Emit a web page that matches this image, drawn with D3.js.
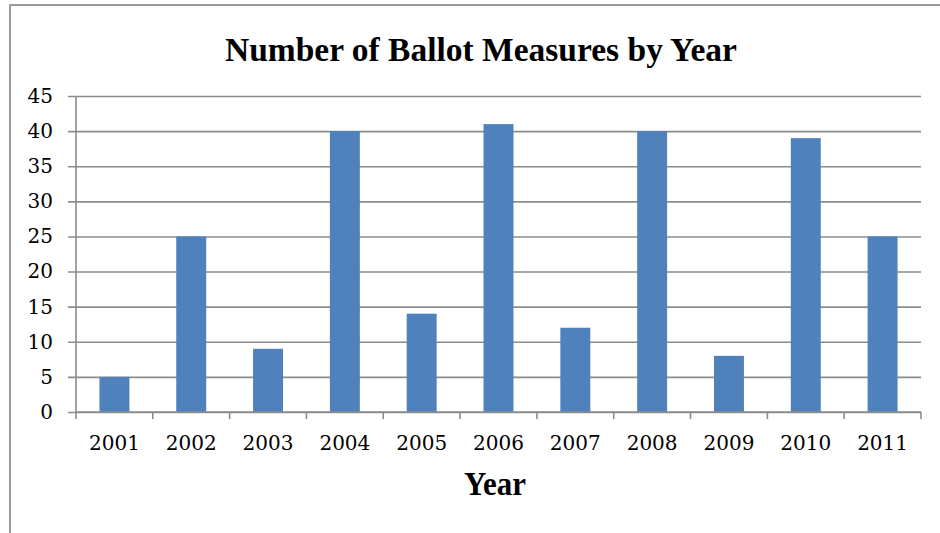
<!DOCTYPE html>
<html>
<head>
<meta charset="utf-8">
<script src="https://cdn.jsdelivr.net/npm/d3@7"></script>
<style>
  html, body { margin: 0; padding: 0; background: #fff; }
  svg { display: block; }
</style>
</head>
<body>
<svg id="chart" width="940" height="533"></svg>
<script>
// Ballot measures per year
const years = ["2001", "2002", "2003", "2004", "2005", "2006", "2007", "2008", "2009", "2010", "2011"];
const measures = [5, 25, 9, 40, 14, 41, 12, 40, 8, 39, 25];
const yTicks = [0, 5, 10, 15, 20, 25, 30, 35, 40, 45];

const svg = d3.select("#chart");
const W = 940, H = 533;
const plot = { left: 76, right: 921, top: 96, bottom: 412 };
const gridColor = "#8c8c8c";
const tickFont = "'DejaVu Serif', serif";
const titleFont = "'Liberation Serif', 'Times New Roman', serif";

// chart frame (left and top edges)
svg.append("path")
  .attr("d", `M10,${H + 2} L10,5 L${W + 2},5`)
  .attr("fill", "none")
  .attr("stroke", "#9a9a9a")
  .attr("stroke-width", 2);

const x = d3.scaleBand()
  .domain(years)
  .range([plot.left, plot.right])
  .paddingInner(0.61)
  .paddingOuter(0.305);

const y = d3.scaleLinear()
  .domain([0, 45])
  .range([plot.bottom, plot.top]);

// horizontal gridlines with left tick marks
const yAxis = d3.axisLeft(y)
  .tickValues(yTicks)
  .tickSize(-(plot.right - plot.left))
  .tickPadding(15)
  .tickFormat(d3.format("d"));

const gy = svg.append("g")
  .attr("transform", `translate(${plot.left},0)`)
  .call(yAxis);
gy.select(".domain").remove();
gy.selectAll(".tick line")
  .attr("x1", -8)
  .attr("stroke", gridColor)
  .attr("stroke-width", 1.6);
gy.selectAll(".tick text")
  .attr("x", -23)
  .attr("font-family", tickFont)
  .attr("font-size", 20)
  .attr("fill", "#000");

// vertical axis line
svg.append("line")
  .attr("x1", plot.left).attr("x2", plot.left)
  .attr("y1", plot.top).attr("y2", plot.bottom)
  .attr("stroke", gridColor)
  .attr("stroke-width", 1.6);

// bars
svg.append("g")
  .selectAll("rect")
  .data(years.map((yr, i) => ({ year: yr, value: measures[i] })))
  .join("rect")
  .attr("x", d => x(d.year))
  .attr("width", x.bandwidth())
  .attr("y", d => y(d.value))
  .attr("height", d => y(0) - y(d.value))
  .attr("fill", "#4F81BD");

// category axis: boundary ticks between bands
const step = x.step();
const boundaries = d3.range(years.length + 1).map(i => plot.left + i * step);
const gx = svg.append("g");
gx.append("line")
  .attr("x1", plot.left).attr("x2", plot.right)
  .attr("y1", plot.bottom).attr("y2", plot.bottom)
  .attr("stroke", gridColor)
  .attr("stroke-width", 1.6);
gx.selectAll("line.bt")
  .data(boundaries)
  .join("line")
  .attr("class", "bt")
  .attr("x1", d => d).attr("x2", d => d)
  .attr("y1", plot.bottom).attr("y2", plot.bottom + 7)
  .attr("stroke", gridColor)
  .attr("stroke-width", 1.6);
gx.selectAll("text")
  .data(years)
  .join("text")
  .attr("x", d => x(d) + x.bandwidth() / 2)
  .attr("y", 450)
  .attr("text-anchor", "middle")
  .attr("font-family", tickFont)
  .attr("font-size", 20)
  .attr("fill", "#000")
  .text(d => d);

// title
svg.append("text")
  .attr("x", 481)
  .attr("y", 61)
  .attr("text-anchor", "middle")
  .attr("font-family", titleFont)
  .attr("font-weight", "bold")
  .attr("font-size", 33)
  .attr("textLength", 512)
  .attr("lengthAdjust", "spacingAndGlyphs")
  .attr("fill", "#000")
  .text("Number of Ballot Measures by Year");

// x axis title
svg.append("text")
  .attr("x", 495)
  .attr("y", 495)
  .attr("text-anchor", "middle")
  .attr("font-family", titleFont)
  .attr("font-weight", "bold")
  .attr("font-size", 33)
  .attr("textLength", 62)
  .attr("lengthAdjust", "spacingAndGlyphs")
  .attr("fill", "#000")
  .text("Year");
</script>
</body>
</html>
